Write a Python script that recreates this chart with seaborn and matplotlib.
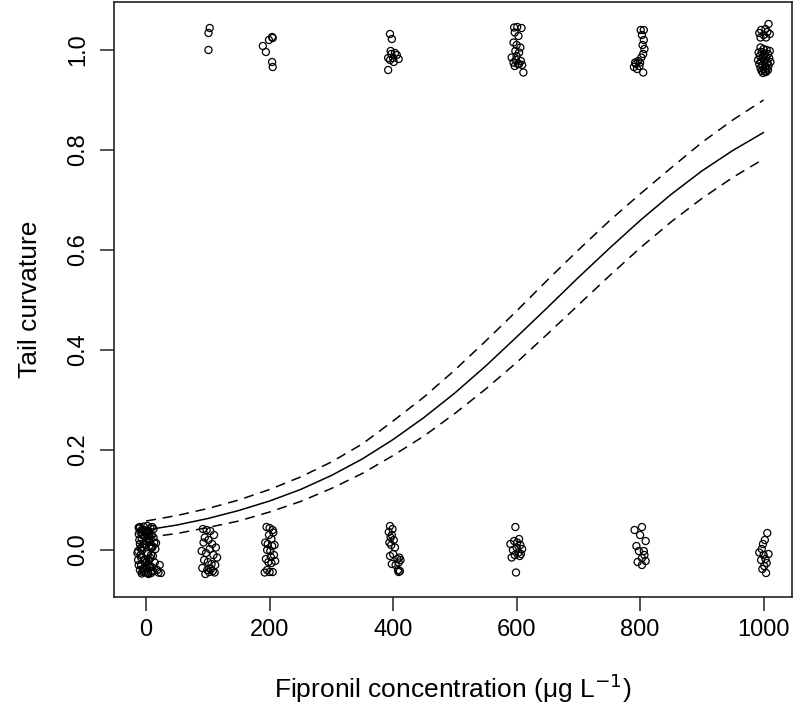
import numpy as np
import pandas as pd
import matplotlib
matplotlib.use("Agg")
import matplotlib.pyplot as plt
import seaborn as sns

x_c0 = [-12, -8, -4, 0, 4, 8, 12, -10, -6, -2, 2, 6, 10, 14, -11, -7, -3, 1, 5, 9, 13,
        -13, -9, -5, -1, 3, 7, 11, 15, -12, -6, 0, 6, 12, -8, -2, 4, 10, 18,
        -10, -4, 2, 8, 16, 22, -14, -7, 1, 9, 20, -5, 3, 11, 24, -9, 5,
        -11, -6, -1, 4, 9, -13, -8, -3, 2, 7, -10, -5, 0, 5, 10, -12, -7, -2, 3, 8,
        -9, -4, 1, 6]
y_c0 = [0.045, -0.030, 0.012, -0.045, 0.038, -0.010, 0.025,
        -0.040, 0.030, -0.018, 0.048, -0.035, 0.005, -0.025,
        0.020, -0.047, 0.040, -0.005, 0.028, -0.042, 0.015,
        -0.020, 0.035, -0.038, 0.010, -0.028, 0.044, -0.012, 0.002,
        0.032, -0.044, 0.018, -0.032, 0.042,
        -0.015, 0.026, -0.048, 0.008, -0.040,
        0.046, -0.022, 0.036, -0.046, 0.014, -0.030,
        -0.006, 0.022, -0.036, 0.030, -0.045,
        0.040, -0.008, -0.042, -0.046, 0.004, 0.033,
        0.043, 0.006, -0.026, 0.018, -0.034, -0.002, 0.039, -0.043, 0.024, -0.016,
        0.012, -0.038, 0.034, -0.020, 0.046, -0.030, 0.000, 0.028, -0.046, 0.008,
        -0.010, 0.047, -0.024, 0.016]

x_c100 = [92, 98, 104, 110, 95, 101, 107, 113, 90, 97, 103, 109, 115, 94, 100, 106, 112,
          91, 99, 105, 111, 96, 102, 108, 93,
          103, 101, 101]
y_c100 = [0.042, 0.040, 0.038, 0.030, 0.025, 0.020, 0.012, 0.005, -0.002, -0.006, 0.002,
          -0.010, -0.015, -0.020, -0.024, -0.028, -0.030, -0.036, -0.040, -0.038, -0.045,
          -0.048, -0.044, -0.042, 0.015,
          1.044, 1.034, 1.000]

x_c200 = [195, 200, 205, 199, 206, 203, 193, 197, 204, 208, 201, 196, 194, 202, 207, 198,
          203, 209, 192, 200, 196, 205,
          204, 205, 189, 194, 204, 205, 199]
y_c200 = [0.046, 0.044, 0.040, 0.030, 0.035, 0.022, 0.015, 0.012, 0.008, 0.010, -0.002,
          0.000, -0.018, -0.014, -0.010, -0.024, -0.026, -0.022, -0.045, -0.044, -0.040, -0.044,
          1.026, 1.024, 1.008, 0.996, 0.976, 0.966, 1.020]

x_c400 = [395, 399, 393, 398, 396, 401, 394, 397, 403, 400, 395, 410, 407, 412, 409, 404,
          398, 408, 411, 409,
          395, 398, 396, 403, 392, 400, 409, 395, 406, 392, 401, 397]
y_c400 = [0.048, 0.042, 0.036, 0.030, 0.025, 0.020, 0.015, 0.010, 0.005, -0.008, -0.012,
          -0.015, -0.018, -0.020, -0.025, -0.030, -0.028, -0.040, -0.042, -0.044,
          1.032, 1.022, 0.998, 0.994, 0.984, 0.984, 0.982, 0.980, 0.990, 0.960, 0.976, 0.992]

x_c600 = [598, 604, 596, 601, 590, 606, 600, 594, 609, 603, 597, 605, 592, 607, 599,
          596, 601, 608, 597, 603, 595, 600, 606, 598, 604, 592, 599, 607, 595, 602, 609,
          597, 604, 611, 600]
y_c600 = [0.046, 0.022, 0.018, 0.015, 0.012, 0.010, 0.005, 0.000, 0.002, -0.005, -0.010,
          -0.012, -0.015, -0.008, -0.045,
          1.045, 1.046, 1.044, 1.035, 1.028, 1.015, 1.010, 1.005, 0.998, 0.995, 0.985,
          0.980, 0.978, 0.975, 0.972, 0.970, 0.968, 0.972, 0.955, 0.988]

x_c800 = [791, 803, 809, 794, 798, 806, 807, 803, 809, 796, 803, 800,
          801, 806, 803, 806, 804, 807, 805, 802, 797, 793, 790, 795, 799, 792, 805, 800]
y_c800 = [0.040, 0.046, 0.018, 0.008, -0.002, -0.002, -0.010, -0.016, -0.022, -0.024,
          -0.030, 0.030,
          1.040, 1.040, 1.030, 1.020, 1.010, 1.002, 0.992, 0.985, 0.978, 0.972, 0.966,
          0.962, 0.968, 0.975, 0.955, 0.975]

x_c1000 = [1006, 1002, 999, 997, 993, 1000, 1008, 1003, 996, 1005, 1001, 998, 1004,
           1008, 1003, 996, 1006, 993, 1000, 995, 1004, 1010,
           995, 1000, 1005, 1010, 992, 997, 1002, 1007, 994, 999, 1004, 1009, 991, 996,
           1001, 1006, 1011, 993, 998, 1003, 1008, 995, 1000, 1005, 997, 1002, 1007, 999,
           1004, 1001]
y_c1000 = [0.034, 0.020, 0.012, 0.002, -0.005, -0.010, -0.008, -0.018, -0.020, -0.026,
           -0.032, -0.038, -0.046,
           1.052, 1.042, 1.040, 1.036, 1.034, 1.030, 1.025, 1.025, 1.032,
           1.005, 1.002, 1.000, 0.998, 0.995, 0.996, 0.993, 0.992, 0.988, 0.986, 0.985,
           0.984, 0.980, 0.978, 0.977, 0.975, 0.976, 0.972, 0.970, 0.968, 0.969, 0.964,
           0.962, 0.963, 0.958, 0.957, 0.960, 0.954, 0.956, 0.990]

# Fitted curve and confidence band, read at 50-unit steps
curve_x = [0, 50, 100, 150, 200, 250, 300, 350, 400, 450, 500,
           550, 600, 650, 700, 750, 800, 850, 900, 950, 1000]
fit = [0.040, 0.050, 0.063, 0.079, 0.098, 0.121, 0.149, 0.182, 0.221, 0.265, 0.314,
       0.368, 0.426, 0.485, 0.545, 0.603, 0.659, 0.711, 0.758, 0.799, 0.835]
upper = [0.058, 0.069, 0.083, 0.100, 0.121, 0.146, 0.176, 0.212, 0.258, 0.306, 0.360,
         0.418, 0.478, 0.540, 0.600, 0.658, 0.712, 0.764, 0.815, 0.860, 0.900]
lower = [0.025, 0.033, 0.045, 0.058, 0.076, 0.097, 0.123, 0.153, 0.189, 0.228, 0.273,
         0.322, 0.375, 0.432, 0.490, 0.548, 0.604, 0.656, 0.703, 0.745, 0.782]

pts = pd.DataFrame({
    "x": x_c0 + x_c100 + x_c200 + x_c400 + x_c600 + x_c800 + x_c1000,
    "y": y_c0 + y_c100 + y_c200 + y_c400 + y_c600 + y_c800 + y_c1000,
})
curves = pd.DataFrame({"x": curve_x, "fit": fit, "upper": upper, "lower": lower})

sns.set_theme(style="ticks")
plt.rcParams["font.family"] = ["Liberation Sans", "DejaVu Sans"]
plt.rcParams["text.color"] = "black"
plt.rcParams["axes.labelcolor"] = "black"
plt.rcParams["xtick.color"] = "black"
plt.rcParams["ytick.color"] = "black"

fig = plt.figure(figsize=(8, 7.12), dpi=100)
ax = fig.add_axes([0.1425, 0.1615, 0.8475, 0.8357])

sns.scatterplot(data=pts, x="x", y="y", ax=ax, s=26, facecolor="none",
                edgecolor="black", linewidth=0.9, zorder=3)
sns.lineplot(data=curves, x="x", y="fit", ax=ax, color="black", linewidth=1.1)
sns.lineplot(data=curves, x="x", y="upper", ax=ax, color="black", linewidth=1.1,
             dashes=False, linestyle=(0, (6.5, 4.5)))
sns.lineplot(data=curves, x="x", y="lower", ax=ax, color="black", linewidth=1.1,
             dashes=False, linestyle=(0, (6.5, 4.5)))

ax.set_xlim(-52, 1046)
ax.set_ylim(-0.094, 1.096)
ax.set_xticks([0, 200, 400, 600, 800, 1000])
ax.set_yticks([0.0, 0.2, 0.4, 0.6, 0.8, 1.0])
ax.set_yticklabels(["0.0", "0.2", "0.4", "0.6", "0.8", "1.0"], rotation=90, va="center")
ax.tick_params(axis="both", direction="out", length=10, width=1.1, labelsize=17,
               color="#222222", labelcolor="black", pad=8)
ax.tick_params(axis="x", pad=6)
for sp in ax.spines.values():
    sp.set_visible(True)
    sp.set_linewidth(1.2)
    sp.set_color("#222222")

ax.set_xlabel("Fipronil concentration (\u03bcg L$^{-1}$)", fontsize=19, labelpad=22,
              color="black")
ax.set_ylabel("Tail curvature", fontsize=19, labelpad=18, color="black")

fig.savefig("out.png", dpi=100)
